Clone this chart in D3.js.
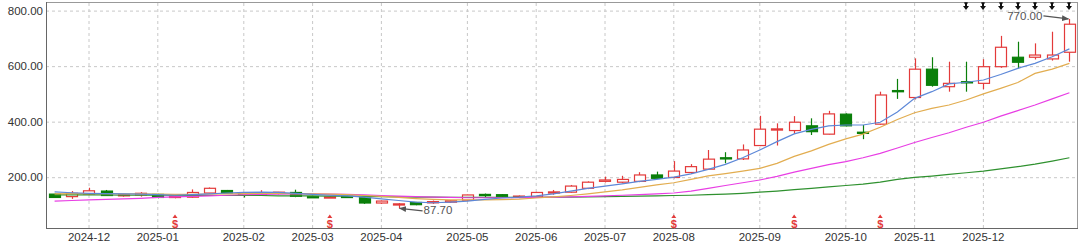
<!DOCTYPE html>
<html><head><meta charset="utf-8">
<script src="https://cdn.jsdelivr.net/npm/d3@7"></script>
<style>
html,body{margin:0;padding:0;background:#fff;overflow:hidden;}
svg{display:block;font-family:"Liberation Sans",Arial,sans-serif;}
</style>
</head><body>
<svg id="chart" width="1080" height="246"></svg>
<script>
// ---- data (weekly candles) ----
const dates = ["2024-11-22","2024-11-29","2024-12-06","2024-12-13","2024-12-20","2024-12-27",
"2025-01-03","2025-01-10","2025-01-17","2025-01-24","2025-01-27","2025-02-07","2025-02-14","2025-02-21","2025-02-28",
"2025-03-07","2025-03-14","2025-03-21","2025-03-28","2025-04-03","2025-04-11","2025-04-18","2025-04-25","2025-04-30",
"2025-05-09","2025-05-16","2025-05-23","2025-05-30","2025-06-06","2025-06-13","2025-06-20","2025-06-27",
"2025-07-04","2025-07-11","2025-07-18","2025-07-25","2025-08-01","2025-08-08","2025-08-15","2025-08-22","2025-08-29",
"2025-09-05","2025-09-12","2025-09-19","2025-09-26","2025-09-30","2025-10-10","2025-10-17","2025-10-24","2025-10-31",
"2025-11-07","2025-11-14","2025-11-21","2025-11-28","2025-12-05","2025-12-12","2025-12-19","2025-12-26","2025-12-31","2026-01-09"];
const opens  = [139,130,139,150,134,136,138,128,128,143,152,141,136,142,145,130,127,131,126,107,102,109,110,110,117,138,137,128,129,145,146,160,185,182,185,208,199,217,229,270,266,314,370,368,385,355,427,362,391,512,487,589,526,544,538,598,632,632,626,650];
const highs  = [141,150,162,154,140,146,140,134,156,163,154,146,153,147,155,131,131,133,128,116,107,111,116,117,137,141,139,134,147,154,172,185,202,205,218,220,258,247,298,290,318,421,394,420,412,439,430,388,508,554,628,632,616,616,625,709,688,682,724,770];
const lows   = [126,122,137,133,130,130,124,124,126,140,141,127,133,138,128,125,125,125,104,104,87.7,99,104,107,114,128,126,125,127,137,144,157,181,178,182,195,196,212,226,250,262,312,314,356,352,354,383,337,389,482,480,526,508,508,517,594,592,624,620,616];
const closes = [127,142,151,134,137,142,127,131,145,160,142,139,143,146,131,127,129,128,107,114,104,101,112,115,136,135,129,132,145,147,168,182,190,192,208,196,222,238,265,266,298,373,374,398,364,428,385,359,496,509,589,531,538,541,598,668,614,640,640,751];
const ma5  = [147,144,142,141,140,139,137,135,137,140,143,145,146,145,142,138,135,133,128,122,116,110,108,110,114,120,125,128,133,140,150,160,168,176,185,192,200,212,228,246,270,298,328,356,372,385,388,388,398,435,484,508,536,542,550,570,592,610,634,662];
const ma10 = [140,141,141,141,140,140,139,138,138,139,140,141,142,142,141,140,139,137,134,131,127,123,120,118,118,118,119,121,125,129,134,140,147,154,163,172,180,192,205,213,222,232,250,275,295,318,338,355,380,408,432,448,460,478,500,520,541,574,589,610];
const ma20 = [114,116,118,120,122,124,127,129,131,133,135,137,138,139,140,140,139,138,136,134,132,130,128,127,126,126,126,126,127,128,129,131,133,135,137,140,143,150,160,170,180,190,203,218,232,245,256,270,286,305,325,343,360,380,398,420,440,460,482,504];
const ma60 = [136,136,136,136,135,135,135,135,134,134,134,134,134,133,133,133,132,132,131,130,129,128,128,127,127,127,127,127,127,128,128,129,130,131,132,133,134,135,137,139,142,146,150,155,160,165,170,175,182,192,199,204,210,216,222,230,238,247,258,270];
const yTicks = [200,400,600,800];
const tickDates = ["2024-12-06","2025-01-03","2025-02-07","2025-03-07","2025-04-03","2025-05-09","2025-06-06","2025-07-04","2025-08-01","2025-09-05","2025-10-10","2025-11-07","2025-12-05"];
const dollarDates = ["2025-01-10","2025-03-14","2025-08-01","2025-09-19","2025-10-24"];
const arrowDates = ["2025-11-28","2025-12-05","2025-12-12","2025-12-19","2025-12-26","2025-12-31","2026-01-09"];

// ---- layout ----
const W=1080,H=246,L=46,R=1077,T=2,B=228;
const svg=d3.select("#chart");
svg.append("rect").attr("width",W).attr("height",H).attr("fill","#fff");
const defs=svg.append("defs");
defs.append("clipPath").attr("id","plotclip").append("rect")
  .attr("x",L+1).attr("y",T+1).attr("width",R-L-1).attr("height",B-T-1);
const x=d3.scaleBand().domain(dates).range([L,R+1]).padding(0);
const y=d3.scaleLinear().domain([17,831]).range([B,T]);
const cx=d=>x(d)+x.bandwidth()/2;
const bw=x.bandwidth()*0.64;

// grid + axes
const gy=svg.append("g").attr("transform",`translate(${L},0)`)
  .call(d3.axisLeft(y).tickValues(yTicks).tickFormat(d3.format(".2f")).tickSize(-(R-L)).tickPadding(3));
gy.select(".domain").remove();
gy.selectAll("line").attr("stroke","#c8c8c8").attr("stroke-dasharray","3,3");
gy.selectAll("text").attr("fill","#333").style("font-size","11.5px");

const gx=svg.append("g").attr("transform",`translate(0,${B})`)
  .call(d3.axisBottom(x).tickValues(tickDates).tickFormat(d=>d.slice(0,7)).tickSize(-(B-T)).tickPadding(5));
gx.select(".domain").remove();
gx.selectAll("line").attr("stroke","#c8c8c8").attr("stroke-dasharray","3,3");
gx.selectAll("text").attr("fill","#333").style("font-size","11.5px");

// candles
const RED="#e33a3a", GRN="#0a7f0a";
const candles=dates.map((d,i)=>({d,o:opens[i],h:highs[i],l:lows[i],c:closes[i]}));
const plot=svg.append("g").attr("clip-path","url(#plotclip)");
const cg=plot.append("g");
cg.selectAll("line.wick").data(candles).join("line").attr("class","wick")
  .attr("x1",d=>Math.round(cx(d.d))+0.5).attr("x2",d=>Math.round(cx(d.d))+0.5)
  .attr("y1",d=>y(d.h)).attr("y2",d=>y(d.l))
  .attr("stroke",d=>d.c>=d.o?RED:GRN).attr("stroke-width",1.2);
cg.selectAll("rect.body").data(candles).join("rect").attr("class","body")
  .attr("x",d=>Math.round(cx(d.d)-bw/2)+0.5)
  .attr("y",d=>y(Math.max(d.o,d.c)))
  .attr("width",Math.round(bw))
  .attr("height",d=>Math.max(Math.abs(y(d.o)-y(d.c)),1.2))
  .attr("fill",d=>d.c>=d.o?"#fff":GRN)
  .attr("stroke",d=>d.c>=d.o?RED:GRN).attr("stroke-width",1.2);

// MA lines
const lineGen=arr=>d3.line().x((v,i)=>cx(dates[i])).y(v=>y(v))(arr);
[[ma60,"#2f912f"],[ma20,"#e83ee4"],[ma10,"#e2ad50"],[ma5,"#5d88d8"]].forEach(([arr,col])=>{
  plot.append("path").attr("d",lineGen(arr)).attr("fill","none").attr("stroke",col).attr("stroke-width",1.2);
});

// frame
svg.append("rect").attr("x",L+0.5).attr("y",T+0.5).attr("width",R-L).attr("height",B-T)
  .attr("fill","none").attr("stroke","#999");
svg.append("line").attr("x1",L+0.5).attr("x2",L+0.5).attr("y1",T).attr("y2",B+0.5).attr("stroke","#666");
svg.append("line").attr("x1",L).attr("x2",R+1).attr("y1",B+0.5).attr("y2",B+0.5).attr("stroke","#666");

// $ markers
const dg=svg.append("g");
dollarDates.forEach(d=>{
  const px=cx(d);
  dg.append("path").attr("d",`M${px-2.5},218 L${px+2.5},218 L${px},214.5 Z`).attr("fill",RED);
  dg.append("text").attr("x",px).attr("y",227.5).attr("text-anchor","middle")
    .attr("fill",RED).style("font-size","11px").style("font-weight","bold").text("$");
});

// top arrows
const ag=svg.append("g");
arrowDates.forEach(d=>{
  const px=Math.round(cx(d));
  ag.append("rect").attr("x",px-1).attr("y",2.5).attr("width",2).attr("height",4).attr("fill","#111");
  ag.append("rect").attr("x",px-2).attr("y",2.5).attr("width",4).attr("height",1).attr("fill","#111");
  ag.append("path").attr("d",`M${px-3},6 L${px+3},6 L${px},10 Z`).attr("fill","#111");
});

// annotations: min low and max high
defs.append("marker").attr("id","ah").attr("viewBox","0 0 10 10")
  .attr("refX",9).attr("refY",5).attr("markerWidth",6).attr("markerHeight",6).attr("orient","auto")
  .append("path").attr("d","M0,1 L10,5 L0,9 Z").attr("fill","#555");
const minI=d3.minIndex(lows), maxI=d3.maxIndex(highs);
const mnx=cx(dates[minI]), mny=y(lows[minI]);
svg.append("line").attr("x1",mnx+24).attr("y1",mny+2.5).attr("x2",mnx+1).attr("y2",mny)
  .attr("stroke","#555").attr("stroke-width",1.2).attr("marker-end","url(#ah)");
svg.append("text").attr("x",mnx+25).attr("y",mny+6).attr("fill","#555").style("font-size","11.5px")
  .text(lows[minI].toFixed(2));
const mxx=cx(dates[maxI]), mxy=y(highs[maxI]);
svg.append("line").attr("x1",mxx-26).attr("y1",mxy-3).attr("x2",mxx-1).attr("y2",mxy)
  .attr("stroke","#555").attr("stroke-width",1.2).attr("marker-end","url(#ah)");
svg.append("text").attr("x",mxx-27).attr("y",mxy+1).attr("text-anchor","end").attr("fill","#555").style("font-size","11.5px")
  .text(highs[maxI].toFixed(2));
</script>
</body></html>
